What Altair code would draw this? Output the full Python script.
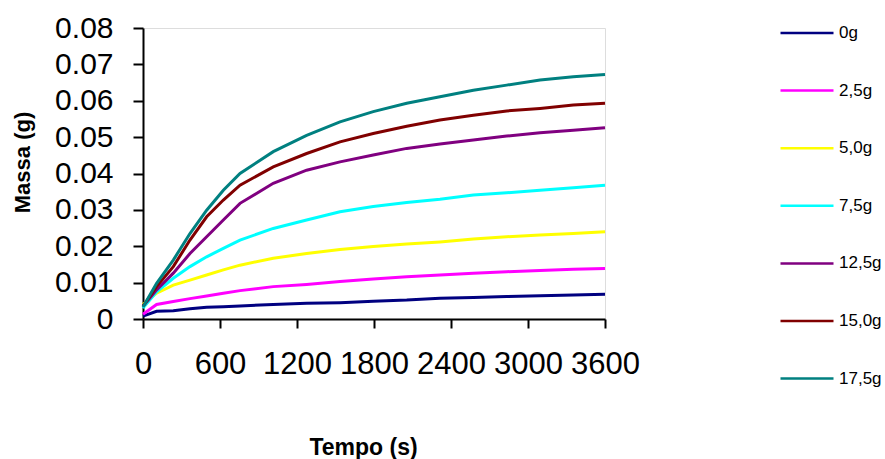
import altair as alt
import pandas as pd

# Time points (s)
tempo = [0, 106, 236, 366, 496, 626, 756, 1015, 1275, 1535, 1794, 2055, 2314, 2574, 2834, 3094, 3353, 3600]

# Series values (g)
m_0g = [0.0008, 0.0021, 0.0023, 0.0028, 0.0032, 0.0034, 0.0036, 0.0040, 0.0043, 0.0045, 0.0049, 0.0052, 0.0057, 0.0059, 0.0062, 0.0064, 0.0066, 0.0068]
m_2_5g = [0.0013, 0.0040, 0.0048, 0.0056, 0.0063, 0.0071, 0.0078, 0.0089, 0.0095, 0.0103, 0.0110, 0.0116, 0.0121, 0.0126, 0.0130, 0.0133, 0.0137, 0.0139]
m_5_0g = [0.0040, 0.0071, 0.0093, 0.0107, 0.0121, 0.0135, 0.0148, 0.0167, 0.0180, 0.0191, 0.0199, 0.0206, 0.0212, 0.0220, 0.0226, 0.0231, 0.0235, 0.0240]
m_7_5g = [0.0030, 0.0075, 0.0112, 0.0144, 0.0171, 0.0194, 0.0217, 0.0249, 0.0272, 0.0295, 0.0309, 0.0320, 0.0329, 0.0341, 0.0347, 0.0354, 0.0361, 0.0368]
m_12_5g = [0.0035, 0.0080, 0.0126, 0.0180, 0.0226, 0.0272, 0.0318, 0.0373, 0.0409, 0.0432, 0.0451, 0.0469, 0.0481, 0.0492, 0.0503, 0.0512, 0.0519, 0.0526]
m_15_0g = [0.0035, 0.0089, 0.0144, 0.0217, 0.0281, 0.0327, 0.0368, 0.0418, 0.0455, 0.0487, 0.0510, 0.0530, 0.0547, 0.0560, 0.0572, 0.0579, 0.0588, 0.0593]
m_17_5g = [0.0033, 0.0098, 0.0162, 0.0235, 0.0299, 0.0354, 0.0400, 0.0460, 0.0505, 0.0542, 0.0570, 0.0593, 0.0611, 0.0629, 0.0643, 0.0657, 0.0666, 0.0672]

series_names = ["0g", "2,5g", "5,0g", "7,5g", "12,5g", "15,0g", "17,5g"]
series_values = [m_0g, m_2_5g, m_5_0g, m_7_5g, m_12_5g, m_15_0g, m_17_5g]
series_colors = ["#000080", "#FF00FF", "#FFFF00", "#00FFFF", "#800080", "#800000", "#008080"]

x_ticks = [0, 600, 1200, 1800, 2400, 3000, 3600]
y_ticks = [0, 0.01, 0.02, 0.03, 0.04, 0.05, 0.06, 0.07, 0.08]

rows = []
for i, (name, vals) in enumerate(zip(series_names, series_values)):
    for t, v in zip(tempo, vals):
        rows.append({"Tempo": t, "Massa": v, "Serie": name, "ordem": i})
df = pd.DataFrame(rows)

FONT = "Liberation Sans"

chart = alt.Chart(df).mark_line(strokeWidth=3).encode(
    x=alt.X("Tempo:Q",
            scale=alt.Scale(domain=[0, 3600], nice=False, zero=True),
            axis=alt.Axis(values=x_ticks, title="Tempo (s)", grid=False, format="d",
                          tickSize=9, tickWidth=2, domainWidth=2,
                          domainColor="black", tickColor="black",
                          labelFontSize=31, labelFont=FONT, labelColor="black",
                          labelPadding=36, labelBaseline="middle",
                          labelOverlap=False, labelFlush=False,
                          titleFont=FONT, titleFontSize=23, titleFontWeight="bold",
                          titleColor="black", titleX=220, titleY=128,
                          titleBaseline="middle", titleAlign="center")),
    y=alt.Y("Massa:Q",
            scale=alt.Scale(domain=[0, 0.08], nice=False),
            axis=alt.Axis(values=y_ticks, title="Massa (g)", grid=False,
                          tickSize=10, tickWidth=2, domainWidth=2,
                          domainColor="black", tickColor="black",
                          labelFontSize=30, labelFont=FONT, labelColor="black",
                          labelPadding=20, labelOverlap=False, labelFlush=False,
                          labelExpr="datum.value == 0 ? '0' : format(datum.value, '.2f')",
                          titleFont=FONT, titleFontSize=22, titleFontWeight="bold",
                          titleColor="black", titleX=-121, titleY=134,
                          titleBaseline="middle", titleAlign="center", titleAngle=270)),
    color=alt.Color("Serie:N",
                    scale=alt.Scale(domain=series_names, range=series_colors),
                    sort=series_names,
                    legend=alt.Legend(title=None, orient="none", legendX=636, legendY=-23,
                                      symbolType="stroke", symbolSize=2809,
                                      symbolStrokeWidth=2.5, labelFontSize=17,
                                      labelFont=FONT, labelColor="black",
                                      labelOffset=4, rowPadding=21.6, padding=0)),
    order=alt.Order("ordem:Q"),
).properties(
    width=462,
    height=291,
    autosize=alt.AutoSizeParams(type="none"),
    padding={"left": 143, "top": 28, "right": 280, "bottom": 140},
).configure_view(stroke=None).configure(background="white")

chart.save("out.html", embed_options={"renderer": "svg", "actions": False})
